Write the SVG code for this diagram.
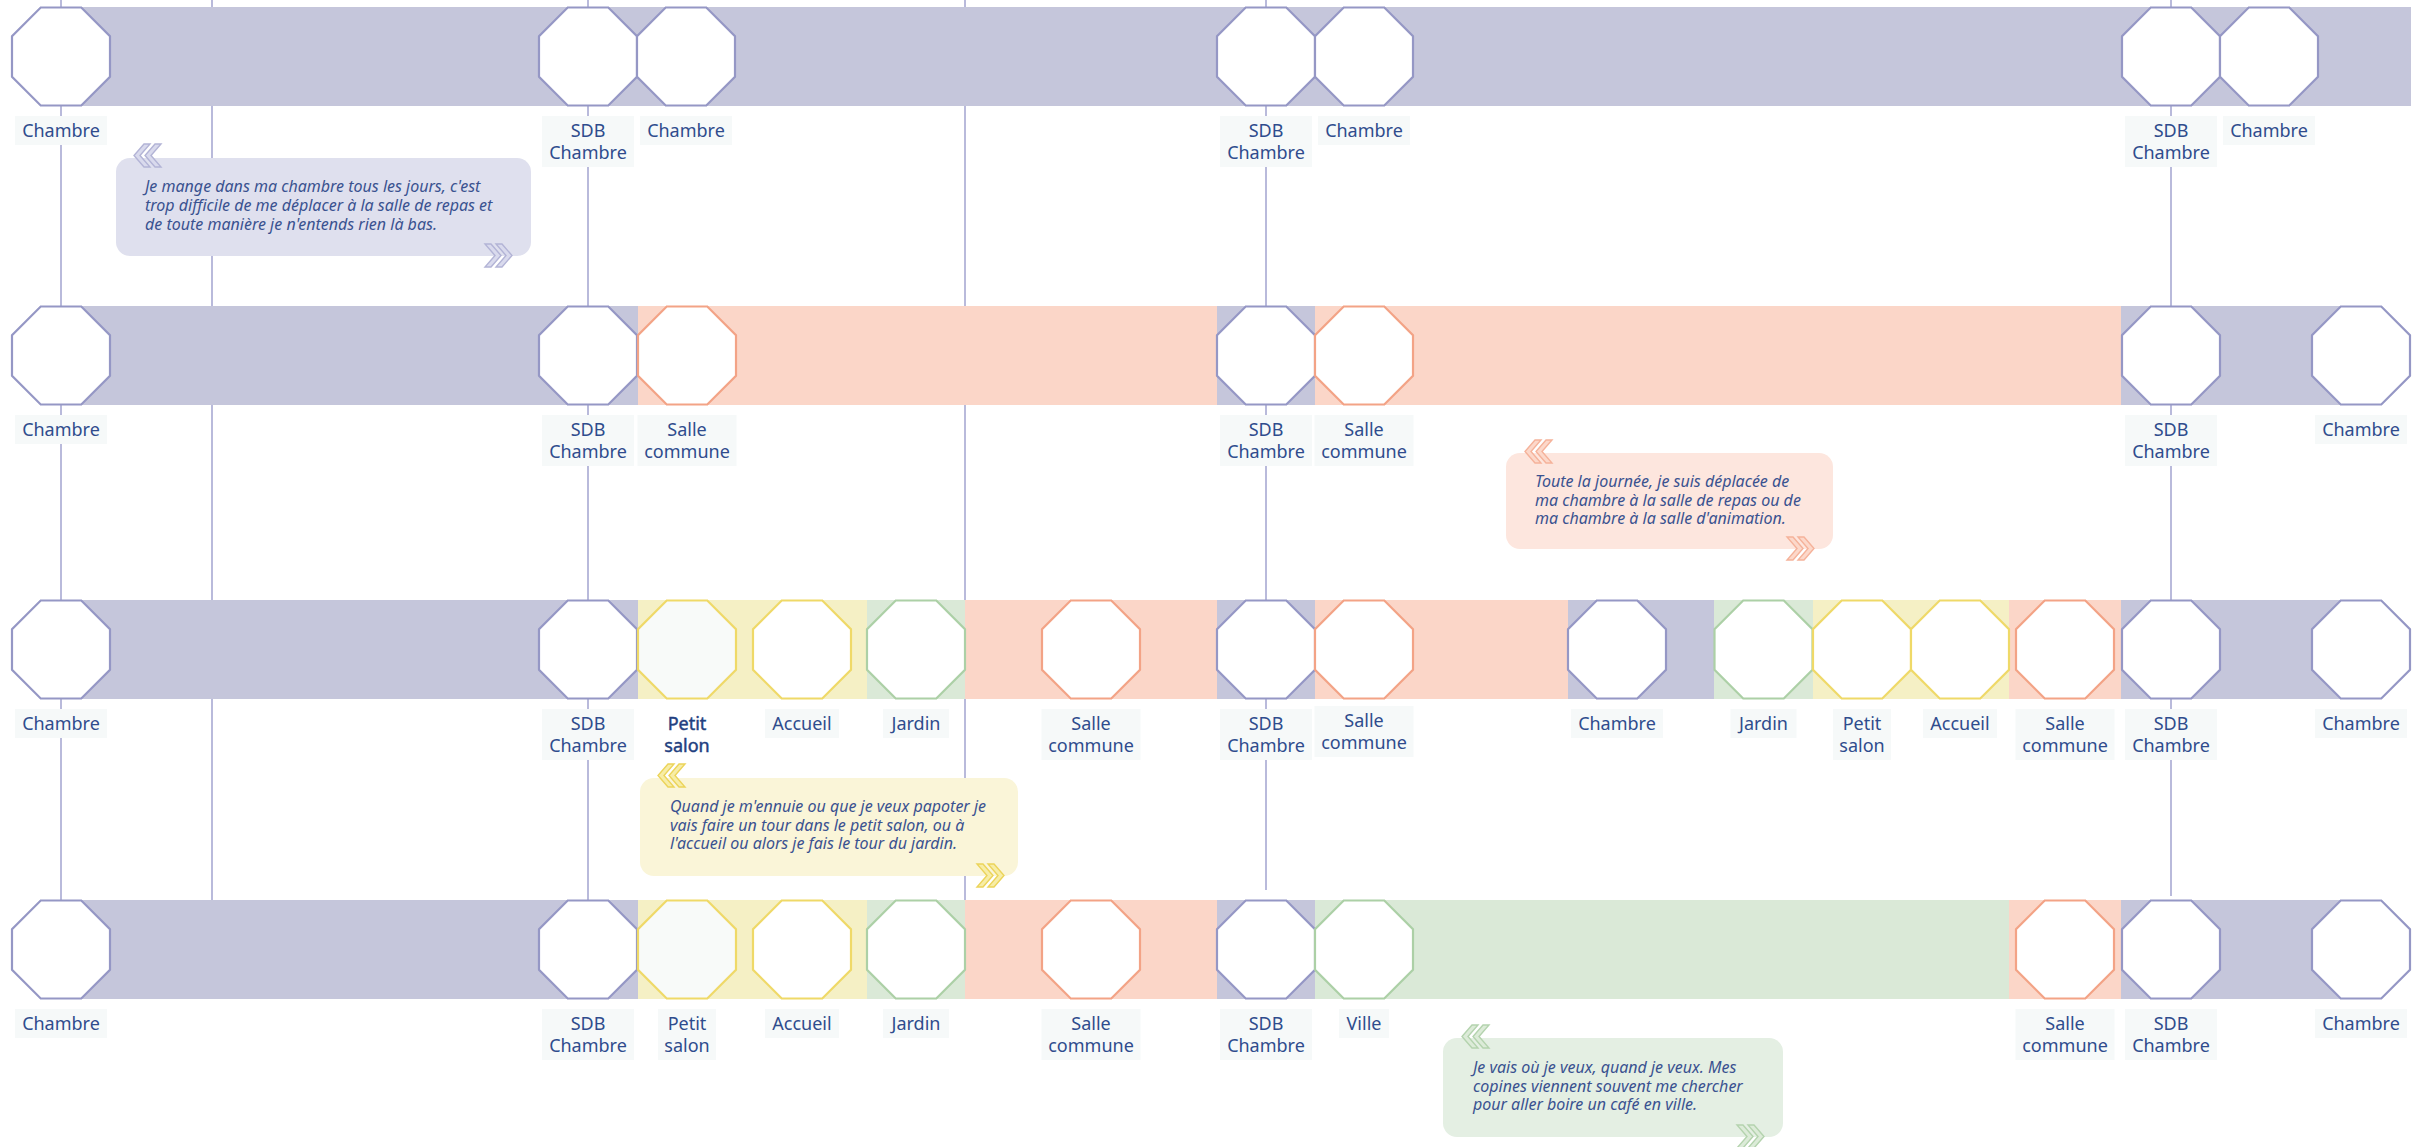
<svg xmlns="http://www.w3.org/2000/svg" xmlns:xlink="http://www.w3.org/1999/xlink" width="2414" height="1147" viewBox="0 0 2414 1147">
<style>
.ln{stroke:#b9badb;stroke-width:2;fill:none}
.bp{fill:#c5c6db}.bo{fill:#fbd6c8}.by{fill:#f5f0c5}.bg{fill:#dae9d7}
.op{fill:#fff;stroke:#9597c5;stroke-width:2.2}
.oo{fill:#fff;stroke:#f3a386;stroke-width:2.2}
.oy{fill:#fff;stroke:#efd968;stroke-width:2.2}
.oyl{fill:#f8faf9;stroke:#efd968;stroke-width:2.2}
.og{fill:#fff;stroke:#acd0a6;stroke-width:2.2}
.lb{fill:#f6f9f9}
.lt{font-family:"Noto Sans","Liberation Sans",sans-serif;font-size:18px;fill:#2f4c8d;text-anchor:middle}
.lt.sel{fill:#233f80;stroke:#233f80;stroke-width:0.45}
.ct{font-family:"Noto Sans","Liberation Sans",sans-serif;font-size:16px;font-style:italic;fill:#3a5290}
.cbp{fill:#dfe0ee}.cbo{fill:#fde6de}.cby{fill:#faf5d8}.cbg{fill:#e4efe3}
.qp{fill:#d9daed;stroke:#b3b4d6;stroke-width:1.4}
.qo{fill:#fcd8ca;stroke:#f5b29a;stroke-width:1.4}
.qy{fill:#f7eda6;stroke:#ecd45a;stroke-width:1.4}
.qg{fill:#dcebd8;stroke:#b4d3ae;stroke-width:1.4}
</style>
<defs>
<polygon id="oct" points="-20.3,-49 20.3,-49 49,-20.3 49,20.3 20.3,49 -20.3,49 -49,20.3 -49,-20.3"/>
<g id="qL"><polygon points="10,0 16,0 6,11.5 16,23 10,23 0,11.5"/><polygon points="21,0 27,0 17,11.5 27,23 21,23 11,11.5"/></g>
<g id="qR"><polygon points="0,0 6,0 16,11.5 6,23 0,23 10,11.5"/><polygon points="11,0 17,0 27,11.5 17,23 11,23 21,11.5"/></g>
</defs>
<rect width="2414" height="1147" fill="#fff"/>

<g id="connectors">
<line class="ln" x1="61" y1="0" x2="61" y2="900"/>
<line class="ln" x1="212" y1="0" x2="212" y2="900"/>
<line class="ln" x1="588" y1="0" x2="588" y2="900"/>
<line class="ln" x1="965" y1="0" x2="965" y2="900"/>
<line class="ln" x1="1266" y1="0" x2="1266" y2="890"/>
<line class="ln" x1="2171" y1="0" x2="2171" y2="896"/>
</g>

<g id="bands">
<rect class="bp" x="61" y="7" width="2350" height="99"/>

<rect class="bp" x="61" y="306" width="577" height="99"/>
<rect class="bo" x="638" y="306" width="579" height="99"/>
<rect class="bp" x="1217" y="306" width="98" height="99"/>
<rect class="bo" x="1315" y="306" width="806" height="99"/>
<rect class="bp" x="2121" y="306" width="240" height="99"/>

<rect class="bp" x="61" y="600" width="577" height="99"/>
<rect class="by" x="638" y="600" width="229" height="99"/>
<rect class="bg" x="867" y="600" width="98" height="99"/>
<rect class="bo" x="965" y="600" width="252" height="99"/>
<rect class="bp" x="1217" y="600" width="98" height="99"/>
<rect class="bo" x="1315" y="600" width="253" height="99"/>
<rect class="bp" x="1568" y="600" width="146" height="99"/>
<rect class="bg" x="1714" y="600" width="99" height="99"/>
<rect class="by" x="1813" y="600" width="196" height="99"/>
<rect class="bo" x="2009" y="600" width="112" height="99"/>
<rect class="bp" x="2121" y="600" width="240" height="99"/>

<rect class="bp" x="61" y="900" width="577" height="99"/>
<rect class="by" x="638" y="900" width="229" height="99"/>
<rect class="bg" x="867" y="900" width="98" height="99"/>
<rect class="bo" x="965" y="900" width="252" height="99"/>
<rect class="bp" x="1217" y="900" width="98" height="99"/>
<rect class="bg" x="1315" y="900" width="694" height="99"/>
<rect class="bo" x="2009" y="900" width="112" height="99"/>
<rect class="bp" x="2121" y="900" width="240" height="99"/>
</g>

<!-- Row 1 -->
<g id="r1-chambre-1"><use href="#oct" class="op" x="61" y="56.5"/><rect class="lb" x="15" y="116" width="92" height="29"/><text class="lt" x="61" y="137">Chambre</text></g>
<g id="r1-sdb-1"><use href="#oct" class="op" x="588" y="56.5"/><rect class="lb" x="542" y="116" width="92" height="51"/><text class="lt" x="588" y="137">SDB</text><text class="lt" x="588" y="159">Chambre</text></g>
<g id="r1-chambre-2"><use href="#oct" class="op" x="686" y="56.5"/><rect class="lb" x="640" y="116" width="92" height="29"/><text class="lt" x="686" y="137">Chambre</text></g>
<g id="r1-sdb-2"><use href="#oct" class="op" x="1266" y="56.5"/><rect class="lb" x="1220" y="116" width="92" height="51"/><text class="lt" x="1266" y="137">SDB</text><text class="lt" x="1266" y="159">Chambre</text></g>
<g id="r1-chambre-3"><use href="#oct" class="op" x="1364" y="56.5"/><rect class="lb" x="1318" y="116" width="92" height="29"/><text class="lt" x="1364" y="137">Chambre</text></g>
<g id="r1-sdb-3"><use href="#oct" class="op" x="2171" y="56.5"/><rect class="lb" x="2125" y="116" width="92" height="51"/><text class="lt" x="2171" y="137">SDB</text><text class="lt" x="2171" y="159">Chambre</text></g>
<g id="r1-chambre-4"><use href="#oct" class="op" x="2269" y="56.5"/><rect class="lb" x="2223" y="116" width="92" height="29"/><text class="lt" x="2269" y="137">Chambre</text></g>

<!-- Row 2 -->
<g id="r2-chambre-1"><use href="#oct" class="op" x="61" y="355.5"/><rect class="lb" x="15" y="415" width="92" height="29"/><text class="lt" x="61" y="436">Chambre</text></g>
<g id="r2-sdb-1"><use href="#oct" class="op" x="588" y="355.5"/><rect class="lb" x="542" y="415" width="92" height="51"/><text class="lt" x="588" y="436">SDB</text><text class="lt" x="588" y="458">Chambre</text></g>
<g id="r2-salle-1"><use href="#oct" class="oo" x="687" y="355.5"/><rect class="lb" x="637.5" y="415" width="99" height="51"/><text class="lt" x="687" y="436">Salle</text><text class="lt" x="687" y="458">commune</text></g>
<g id="r2-sdb-2"><use href="#oct" class="op" x="1266" y="355.5"/><rect class="lb" x="1220" y="415" width="92" height="51"/><text class="lt" x="1266" y="436">SDB</text><text class="lt" x="1266" y="458">Chambre</text></g>
<g id="r2-salle-2"><use href="#oct" class="oo" x="1364" y="355.5"/><rect class="lb" x="1314.5" y="415" width="99" height="51"/><text class="lt" x="1364" y="436">Salle</text><text class="lt" x="1364" y="458">commune</text></g>
<g id="r2-sdb-3"><use href="#oct" class="op" x="2171" y="355.5"/><rect class="lb" x="2125" y="415" width="92" height="51"/><text class="lt" x="2171" y="436">SDB</text><text class="lt" x="2171" y="458">Chambre</text></g>
<g id="r2-chambre-2"><use href="#oct" class="op" x="2361" y="355.5"/><rect class="lb" x="2315" y="415" width="92" height="29"/><text class="lt" x="2361" y="436">Chambre</text></g>

<!-- Row 3 -->
<g id="r3-chambre-1"><use href="#oct" class="op" x="61" y="649.5"/><rect class="lb" x="15" y="709" width="92" height="29"/><text class="lt" x="61" y="730">Chambre</text></g>
<g id="r3-sdb-1"><use href="#oct" class="op" x="588" y="649.5"/><rect class="lb" x="542" y="709" width="92" height="51"/><text class="lt" x="588" y="730">SDB</text><text class="lt" x="588" y="752">Chambre</text></g>
<g id="r3-petit-salon-1"><use href="#oct" class="oyl" x="687" y="649.5"/><text class="lt sel" x="687" y="730">Petit</text><text class="lt sel" x="687" y="752">salon</text></g>
<g id="r3-accueil-1"><use href="#oct" class="oy" x="802" y="649.5"/><rect class="lb" x="765" y="709" width="74" height="29"/><text class="lt" x="802" y="730">Accueil</text></g>
<g id="r3-jardin-1"><use href="#oct" class="og" x="916" y="649.5"/><rect class="lb" x="883" y="709" width="66" height="29"/><text class="lt" x="916" y="730">Jardin</text></g>
<g id="r3-salle-1"><use href="#oct" class="oo" x="1091" y="649.5"/><rect class="lb" x="1041.5" y="709" width="99" height="51"/><text class="lt" x="1091" y="730">Salle</text><text class="lt" x="1091" y="752">commune</text></g>
<g id="r3-sdb-2"><use href="#oct" class="op" x="1266" y="649.5"/><rect class="lb" x="1220" y="709" width="92" height="51"/><text class="lt" x="1266" y="730">SDB</text><text class="lt" x="1266" y="752">Chambre</text></g>
<g id="r3-salle-2"><use href="#oct" class="oo" x="1364" y="649.5"/><rect class="lb" x="1314.5" y="706" width="99" height="51"/><text class="lt" x="1364" y="727">Salle</text><text class="lt" x="1364" y="749">commune</text></g>
<g id="r3-chambre-2"><use href="#oct" class="op" x="1617" y="649.5"/><rect class="lb" x="1571" y="709" width="92" height="29"/><text class="lt" x="1617" y="730">Chambre</text></g>
<g id="r3-jardin-2"><use href="#oct" class="og" x="1763.5" y="649.5"/><rect class="lb" x="1730.5" y="709" width="66" height="29"/><text class="lt" x="1763.5" y="730">Jardin</text></g>
<g id="r3-petit-salon-2"><use href="#oct" class="oy" x="1862" y="649.5"/><rect class="lb" x="1833" y="709" width="58" height="51"/><text class="lt" x="1862" y="730">Petit</text><text class="lt" x="1862" y="752">salon</text></g>
<g id="r3-accueil-2"><use href="#oct" class="oy" x="1960" y="649.5"/><rect class="lb" x="1923" y="709" width="74" height="29"/><text class="lt" x="1960" y="730">Accueil</text></g>
<g id="r3-salle-3"><use href="#oct" class="oo" x="2065" y="649.5"/><rect class="lb" x="2015.5" y="709" width="99" height="51"/><text class="lt" x="2065" y="730">Salle</text><text class="lt" x="2065" y="752">commune</text></g>
<g id="r3-sdb-3"><use href="#oct" class="op" x="2171" y="649.5"/><rect class="lb" x="2125" y="709" width="92" height="51"/><text class="lt" x="2171" y="730">SDB</text><text class="lt" x="2171" y="752">Chambre</text></g>
<g id="r3-chambre-3"><use href="#oct" class="op" x="2361" y="649.5"/><rect class="lb" x="2315" y="709" width="92" height="29"/><text class="lt" x="2361" y="730">Chambre</text></g>

<!-- Row 4 -->
<g id="r4-chambre-1"><use href="#oct" class="op" x="61" y="949.5"/><rect class="lb" x="15" y="1009" width="92" height="29"/><text class="lt" x="61" y="1030">Chambre</text></g>
<g id="r4-sdb-1"><use href="#oct" class="op" x="588" y="949.5"/><rect class="lb" x="542" y="1009" width="92" height="51"/><text class="lt" x="588" y="1030">SDB</text><text class="lt" x="588" y="1052">Chambre</text></g>
<g id="r4-petit-salon"><use href="#oct" class="oyl" x="687" y="949.5"/><rect class="lb" x="658" y="1009" width="58" height="51"/><text class="lt" x="687" y="1030">Petit</text><text class="lt" x="687" y="1052">salon</text></g>
<g id="r4-accueil"><use href="#oct" class="oy" x="802" y="949.5"/><rect class="lb" x="765" y="1009" width="74" height="29"/><text class="lt" x="802" y="1030">Accueil</text></g>
<g id="r4-jardin"><use href="#oct" class="og" x="916" y="949.5"/><rect class="lb" x="883" y="1009" width="66" height="29"/><text class="lt" x="916" y="1030">Jardin</text></g>
<g id="r4-salle-1"><use href="#oct" class="oo" x="1091" y="949.5"/><rect class="lb" x="1041.5" y="1009" width="99" height="51"/><text class="lt" x="1091" y="1030">Salle</text><text class="lt" x="1091" y="1052">commune</text></g>
<g id="r4-sdb-2"><use href="#oct" class="op" x="1266" y="949.5"/><rect class="lb" x="1220" y="1009" width="92" height="51"/><text class="lt" x="1266" y="1030">SDB</text><text class="lt" x="1266" y="1052">Chambre</text></g>
<g id="r4-ville"><use href="#oct" class="og" x="1364" y="949.5"/><rect class="lb" x="1339" y="1009" width="50" height="29"/><text class="lt" x="1364" y="1030">Ville</text></g>
<g id="r4-salle-2"><use href="#oct" class="oo" x="2065" y="949.5"/><rect class="lb" x="2015.5" y="1009" width="99" height="51"/><text class="lt" x="2065" y="1030">Salle</text><text class="lt" x="2065" y="1052">commune</text></g>
<g id="r4-sdb-3"><use href="#oct" class="op" x="2171" y="949.5"/><rect class="lb" x="2125" y="1009" width="92" height="51"/><text class="lt" x="2171" y="1030">SDB</text><text class="lt" x="2171" y="1052">Chambre</text></g>
<g id="r4-chambre-2"><use href="#oct" class="op" x="2361" y="949.5"/><rect class="lb" x="2315" y="1009" width="92" height="29"/><text class="lt" x="2361" y="1030">Chambre</text></g>

<!-- Callouts -->
<g id="quote-1">
<rect class="cbp" x="116" y="158" width="415" height="98" rx="14"/>
<use href="#qL" class="qp" x="134" y="144"/>
<use href="#qR" class="qp" x="485" y="244"/>
<text class="ct" x="145" y="192">Je mange dans ma chambre tous les jours, c'est</text>
<text class="ct" x="145" y="211">trop difficile de me déplacer à la salle de repas et</text>
<text class="ct" x="145" y="230">de toute manière je n'entends rien là bas.</text>
</g>
<g id="quote-2">
<rect class="cbo" x="1506" y="453" width="327" height="96" rx="14"/>
<use href="#qL" class="qo" x="1525" y="440"/>
<use href="#qR" class="qo" x="1787" y="537"/>
<text class="ct" x="1535" y="487">Toute la journée, je suis déplacée de</text>
<text class="ct" x="1535" y="505.5">ma chambre à la salle de repas ou de</text>
<text class="ct" x="1535" y="524">ma chambre à la salle d'animation.</text>
</g>
<g id="quote-3">
<rect class="cby" x="640" y="778" width="378" height="98" rx="14"/>
<use href="#qL" class="qy" x="658" y="764"/>
<use href="#qR" class="qy" x="977" y="864"/>
<text class="ct" x="670" y="812">Quand je m'ennuie ou que je veux papoter je</text>
<text class="ct" x="670" y="830.5">vais faire un tour dans le petit salon, ou à</text>
<text class="ct" x="670" y="849">l'accueil ou alors je fais le tour du jardin.</text>
</g>
<g id="quote-4">
<rect class="cbg" x="1443" y="1038" width="340" height="99" rx="14"/>
<use href="#qL" class="qg" x="1462" y="1025"/>
<use href="#qR" class="qg" x="1737" y="1125"/>
<text class="ct" x="1473" y="1073">Je vais où je veux, quand je veux. Mes</text>
<text class="ct" x="1473" y="1091.5">copines viennent souvent me chercher</text>
<text class="ct" x="1473" y="1110">pour aller boire un café en ville.</text>
</g>
</svg>
